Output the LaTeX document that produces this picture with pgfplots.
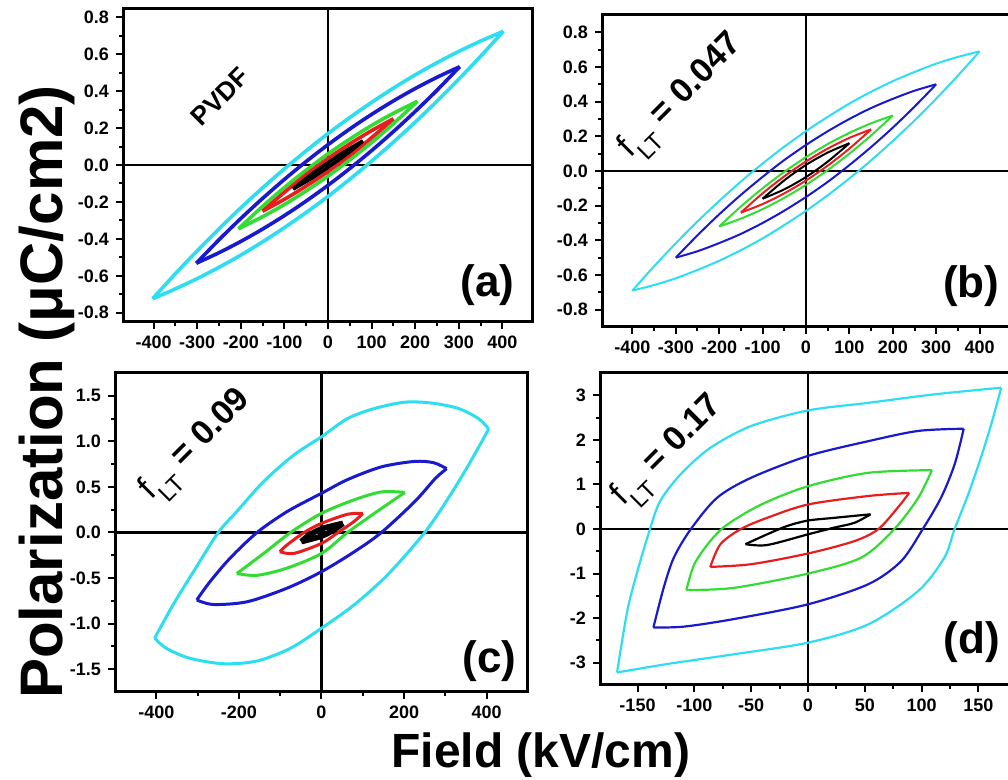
\documentclass[border=0pt]{standalone}
\usepackage{fontspec}
\setmainfont{Liberation Sans}
\usepackage{pgfplots}
\pgfplotsset{compat=1.18}

\definecolor{lcyan}{RGB}{45,222,240}
\definecolor{lblue}{RGB}{25,25,205}
\definecolor{lgreen}{RGB}{50,220,50}
\definecolor{lred}{RGB}{232,30,30}

\pgfplotsset{
  panel/.style={
    scale only axis, anchor=south west,
    axis line style={line width=1.5pt},
    every tick/.style={black, line width=1pt},
    tick align=outside, tick pos=left,
    major tick length=3.5pt, minor tick length=2pt,
    ticklabel style={font=\bfseries\fontsize{9}{9}\selectfont},
    minor x tick num=1, minor y tick num=1,
  },
  zeroline/.style={black, line width=1.3pt, forget plot, sharp plot},
}

\newcommand{\flt}[1]{{\fontsize{17}{17}\selectfont f\raisebox{-0.42em}{\fontsize{12}{12}\selectfont LT}\ \textbf{= #1}}}
\newcommand{\plab}[1]{{\bfseries\fontsize{22}{22}\selectfont (#1)}}

\begin{document}
\begin{tikzpicture}
\path[use as bounding box] (0,0) rectangle (504pt,390pt);
\clip (0,0) rectangle (504pt,390pt);

% (a) PVDF
\begin{axis}[panel, at={(61.5pt,229pt)}, width=205pt, height=157pt,
  xmin=-470, xmax=470, ymin=-0.85, ymax=0.85,
  xtick={-400,-300,...,400}, xticklabels={-400,-300,-200,-100,0,100,200,300,400},
  ytick={-0.8,-0.6,...,0.81}, yticklabels={-0.8,-0.6,-0.4,-0.2,0.0,0.2,0.4,0.6,0.8},
  every axis plot/.append style={line width=1.8pt, smooth, tension=0.5}]
\addplot[zeroline] coordinates {(0,-0.85) (0,0.85)};
\addplot[zeroline] coordinates {(-470,0) (470,0)};
\addplot[lcyan] coordinates {(-402,-0.724) (-350,-0.671) (-300,-0.615) (-250,-0.554) (-200,-0.488) (-150,-0.416) (-100,-0.339) (-50,-0.257) (0,-0.17) (50,-0.077) (100,0.021) (150,0.124) (200,0.232) (250,0.346) (300,0.465) (350,0.589) (402,0.724)};
\addplot[lcyan] coordinates {(402,0.724) (350,0.671) (300,0.615) (250,0.554) (200,0.488) (150,0.416) (100,0.339) (50,0.257) (0,0.17) (-50,0.077) (-100,-0.021) (-150,-0.124) (-200,-0.232) (-250,-0.346) (-300,-0.465) (-350,-0.589) (-402,-0.724)};
\addplot[lblue] coordinates {(-302,-0.532) (-250,-0.475) (-200,-0.414) (-150,-0.347) (-100,-0.274) (-50,-0.195) (0,-0.11) (50,-0.019) (100,0.078) (150,0.181) (200,0.29) (250,0.405) (302,0.532)};
\addplot[lblue] coordinates {(302,0.532) (250,0.475) (200,0.414) (150,0.347) (100,0.274) (50,0.195) (0,0.11) (-50,0.019) (-100,-0.078) (-150,-0.181) (-200,-0.29) (-250,-0.405) (-302,-0.532)};
\addplot[lgreen] coordinates {(-205,-0.345) (-150,-0.28) (-100,-0.214) (-50,-0.14) (0,-0.06) (50,0.028) (100,0.122) (150,0.224) (205,0.345)};
\addplot[lgreen] coordinates {(205,0.345) (150,0.28) (100,0.214) (50,0.14) (0,0.06) (-50,-0.028) (-100,-0.122) (-150,-0.224) (-205,-0.345)};
\addplot[lred] coordinates {(-150,-0.25) (-100,-0.186) (-50,-0.114) (0,-0.035) (50,0.052) (100,0.148) (150,0.25)};
\addplot[lred] coordinates {(150,0.25) (100,0.186) (50,0.114) (0,0.035) (-50,-0.052) (-100,-0.148) (-150,-0.25)};
\addplot[black] coordinates {(-80,-0.13) (-40,-0.075) (0,-0.012) (40,0.055) (80,0.13)};
\addplot[black] coordinates {(80,0.13) (40,0.075) (0,0.012) (-40,-0.055) (-80,-0.13)};
\node[rotate=45, font=\bfseries\fontsize{13}{13}\selectfont] at (rel axis cs:0.237,0.717) {PVDF};
\node[anchor=east, inner sep=0pt] at (rel axis cs:0.956,0.118) {\plab{a}};
\end{axis}

% (b) f_LT = 0.047
\begin{axis}[panel, at={(301pt,226.5pt)}, width=204pt, height=156pt,
  xmin=-470, xmax=470, ymin=-0.9, ymax=0.9,
  xtick={-400,-300,...,400}, xticklabels={-400,-300,-200,-100,0,100,200,300,400},
  ytick={-0.8,-0.6,...,0.81}, yticklabels={-0.8,-0.6,-0.4,-0.2,0.0,0.2,0.4,0.6,0.8},
  every axis plot/.append style={line width=1pt, smooth, tension=0.5}]
\addplot[zeroline] coordinates {(0,-0.9) (0,0.9)};
\addplot[zeroline] coordinates {(-470,0) (470,0)};
\addplot[lcyan] coordinates {(-400,-0.69) (-350,-0.658) (-300,-0.619) (-250,-0.571) (-200,-0.518) (-150,-0.457) (-100,-0.389) (-50,-0.312) (0,-0.23) (50,-0.14) (100,-0.043) (150,0.061) (200,0.173) (250,0.291) (300,0.417) (350,0.55) (400,0.69)};
\addplot[lcyan] coordinates {(400,0.69) (350,0.658) (300,0.619) (250,0.571) (200,0.518) (150,0.457) (100,0.389) (50,0.312) (0,0.23) (-50,0.14) (-100,0.043) (-150,-0.061) (-200,-0.173) (-250,-0.291) (-300,-0.417) (-350,-0.55) (-400,-0.69)};
\addplot[lblue] coordinates {(-300,-0.5) (-250,-0.463) (-200,-0.416) (-150,-0.363) (-100,-0.3) (-50,-0.229) (0,-0.15) (50,-0.063) (100,0.034) (150,0.138) (200,0.25) (250,0.371) (300,0.5)};
\addplot[lblue] coordinates {(300,0.5) (250,0.463) (200,0.416) (150,0.363) (100,0.3) (50,0.229) (0,0.15) (-50,0.063) (-100,-0.034) (-150,-0.138) (-200,-0.25) (-250,-0.371) (-300,-0.5)};
\addplot[lgreen] coordinates {(-200,-0.32) (-150,-0.275) (-100,-0.22) (-50,-0.155) (0,-0.08) (50,0.005) (100,0.1) (150,0.205) (200,0.32)};
\addplot[lgreen] coordinates {(200,0.32) (150,0.275) (100,0.22) (50,0.155) (0,0.08) (-50,-0.005) (-100,-0.1) (-150,-0.205) (-200,-0.32)};
\addplot[lred] coordinates {(-150,-0.24) (-100,-0.191) (-50,-0.129) (0,-0.055) (50,0.031) (100,0.129) (150,0.24)};
\addplot[lred] coordinates {(150,0.24) (100,0.191) (50,0.129) (0,0.055) (-50,-0.031) (-100,-0.129) (-150,-0.24)};
\addplot[black] coordinates {(-100,-0.16) (-50,-0.106) (0,-0.035) (50,0.054) (100,0.16)};
\addplot[black] coordinates {(100,0.16) (50,0.106) (0,0.035) (-50,-0.054) (-100,-0.16)};
\node[rotate=45] at (rel axis cs:0.199,0.734) {\flt{0.047}};
\node[anchor=east, inner sep=0pt] at (rel axis cs:0.975,0.131) {\plab{b}};
\end{axis}

% (c) f_LT = 0.09
\begin{axis}[panel, at={(57.5pt,44pt)}, width=206.5pt, height=159.5pt,
  xmin=-500, xmax=500, ymin=-1.75, ymax=1.75,
  xtick={-400,-200,...,400}, xticklabels={-400,-200,0,200,400},
  ytick={-1.5,-1,...,1.6}, yticklabels={-1.5,-1.0,-0.5,0.0,0.5,1.0,1.5},
  every axis plot/.append style={line width=1.5pt, smooth, tension=0.5}]
\addplot[zeroline] coordinates {(0,-1.75) (0,1.75)};
\addplot[zeroline] coordinates {(-500,0) (500,0)};
\addplot[lcyan] coordinates {(-404,-1.16) (-376,-1.27) (-319,-1.38) (-237,-1.44) (-156,-1.41) (-75,-1.27) (0,-1.05) (80,-0.79) (161,-0.46) (250,0) (307,0.376) (356,0.74) (405,1.136)};
\addplot[lcyan] coordinates {(405,1.136) (380,1.25) (332,1.36) (267,1.42) (202,1.43) (128,1.36) (63,1.25) (0,1.05) (-67,0.85) (-140,0.56) (-205,0.23) (-250,0) (-310,-0.43) (-359,-0.79) (-404,-1.16)};
\addplot[lblue] coordinates {(-302,-0.74) (-262,-0.79) (-180,-0.76) (-83,-0.61) (0,-0.43) (80,-0.21) (145,0) (226,0.34) (275,0.59) (303,0.70)};
\addplot[lblue] coordinates {(303,0.70) (272,0.765) (226,0.78) (145,0.72) (63,0.58) (0,0.43) (-83,0.23) (-156,0) (-221,-0.28) (-270,-0.54) (-302,-0.74)};
\addplot[lgreen] coordinates {(-205,-0.45) (-156,-0.47) (-83,-0.39) (0,-0.23) (63,0) (128,0.21) (202,0.44)};
\addplot[lgreen] coordinates {(202,0.44) (145,0.445) (80,0.36) (0,0.21) (-75,0) (-140,-0.23) (-205,-0.45)};
\addplot[lred] coordinates {(-101,-0.21) (-67,-0.23) (0,-0.12) (40,0) (80,0.125) (100,0.21)};
\addplot[lred] coordinates {(100,0.21) (63,0.2) (0,0.1) (-42,0) (-83,-0.135) (-101,-0.21)};
\addplot[black, line width=2.8pt] coordinates {(-49,-0.1) (0,-0.04) (30,0.03) (52,0.1)};
\addplot[black, line width=2.8pt] coordinates {(52,0.1) (0,0.04) (-30,-0.03) (-49,-0.1)};
\node[rotate=45] at (rel axis cs:0.201,0.768) {\flt{0.09}};
\node[anchor=east, inner sep=0pt] at (rel axis cs:0.973,0.097) {\plab{c}};
\end{axis}

% (d) f_LT = 0.17
\begin{axis}[panel, at={(300pt,47.5pt)}, width=208pt, height=156pt,
  xmin=-183, xmax=183, ymin=-3.5, ymax=3.5,
  xtick={-150,-100,...,150}, xticklabels={-150,-100,-50,0,50,100,150},
  ytick={-3,-2,...,3}, yticklabels={-3,-2,-1,0,1,2,3},
  every axis plot/.append style={line width=1.1pt, smooth, tension=0.5}]
\addplot[zeroline] coordinates {(0,-3.5) (0,3.5)};
\addplot[zeroline] coordinates {(-183,0) (183,0)};
\addplot[lcyan] coordinates {(-168,-3.22) (-124,-3.03) (-65,-2.81) (0,-2.55) (53,-2.14) (97,-1.39) (120,-0.64) (129,0) (141,0.78) (153,1.67) (162,2.42) (170,3.17)};
\addplot[lcyan] coordinates {(170,3.17) (111,3.02) (53,2.83) (0,2.66) (-50,2.31) (-86,1.82) (-112,1.23) (-130,0.63) (-139,0) (-150,-0.94) (-159,-1.84) (-168,-3.22)};
\addplot[lblue] coordinates {(-136,-2.21) (-109,-2.19) (-65,-2.02) (0,-1.69) (53,-1.24) (82,-0.72) (101,0) (117,0.70) (129,1.45) (137,2.25)};
\addplot[lblue] coordinates {(137,2.25) (97,2.2) (53,1.97) (0,1.64) (-50,1.15) (-80,0.70) (-103,0) (-118,-0.64) (-127,-1.32) (-136,-2.21)};
\addplot[lgreen] coordinates {(-107,-1.37) (-65,-1.32) (0,-1.0) (47,-0.64) (76,0) (97,0.70) (109,1.32)};
\addplot[lgreen] coordinates {(109,1.32) (53,1.26) (0,0.96) (-41,0.55) (-71,0.1) (-86,-0.27) (-100,-0.79) (-107,-1.37)};
\addplot[lred] coordinates {(-86,-0.85) (-50,-0.79) (0,-0.55) (41,-0.27) (62,0) (79,0.48) (89,0.81)};
\addplot[lred] coordinates {(89,0.81) (53,0.74) (0,0.55) (-36,0.25) (-59,0) (-77,-0.34) (-86,-0.85)};
\addplot[black] coordinates {(-55,-0.34) (-36,-0.36) (0,-0.12) (23,0.03) (41,0.14) (55,0.33)};
\addplot[black] coordinates {(55,0.33) (23,0.25) (0,0.19) (-18,0.07) (-36,-0.12) (-55,-0.34)};
\node[rotate=45] at (rel axis cs:0.168,0.744) {\flt{0.17}};
\node[anchor=east, inner sep=0pt] at (rel axis cs:0.962,0.138) {\plab{d}};
\end{axis}

\node[rotate=90, anchor=base, font=\bfseries\fontsize{30}{30}\selectfont] at (31pt,194pt) {Polarization (μC/cm2)};
\node[anchor=base, font=\bfseries\fontsize{24}{24}\selectfont] at (270.5pt,6pt) {Field (kV/cm)};
\end{tikzpicture}
\end{document}
